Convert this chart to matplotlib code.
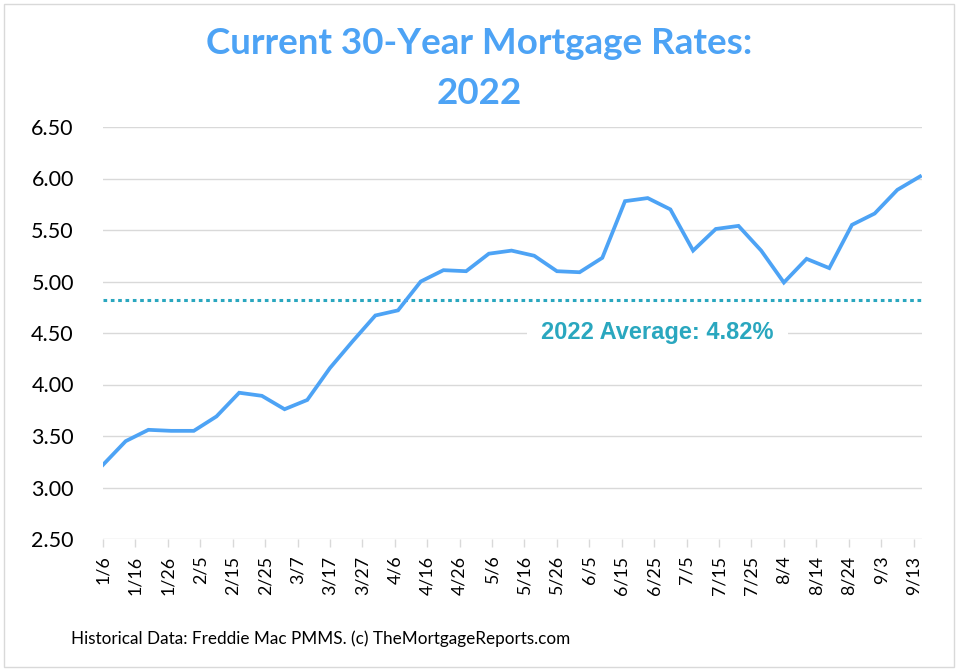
import matplotlib
matplotlib.use("Agg")
import matplotlib.pyplot as plt
import pandas as pd
from matplotlib.patches import Rectangle

dates = ["2022-01-06", "2022-01-13", "2022-01-20", "2022-01-27", "2022-02-03", "2022-02-10",
         "2022-02-17", "2022-02-24", "2022-03-03", "2022-03-10", "2022-03-17", "2022-03-24",
         "2022-03-31", "2022-04-07", "2022-04-14", "2022-04-21", "2022-04-28", "2022-05-05",
         "2022-05-12", "2022-05-19", "2022-05-26", "2022-06-02", "2022-06-09", "2022-06-16",
         "2022-06-23", "2022-06-30", "2022-07-07", "2022-07-14", "2022-07-21", "2022-07-28",
         "2022-08-04", "2022-08-11", "2022-08-18", "2022-08-25", "2022-09-01", "2022-09-08",
         "2022-09-15"]
rates = [3.22, 3.45, 3.56, 3.55, 3.55, 3.69, 3.92, 3.89, 3.76, 3.85, 4.16, 4.42,
         4.67, 4.72, 5.00, 5.11, 5.10, 5.27, 5.30, 5.25, 5.10, 5.09, 5.23, 5.78,
         5.81, 5.70, 5.30, 5.51, 5.54, 5.30, 4.99, 5.22, 5.13, 5.55, 5.66, 5.89, 6.02]
average = 4.82
y_ticks = [2.50, 3.00, 3.50, 4.00, 4.50, 5.00, 5.50, 6.00, 6.50]
tick_start, tick_end = "2022-01-06", "2022-09-13"

title_line1 = "Current 30-Year Mortgage Rates:"
title_line2 = "2022"
avg_label = "2022 Average: 4.82%"
footer = "Historical Data: Freddie Mac PMMS. (c) TheMortgageReports.com"

x = pd.to_datetime(dates)
tick_dates = pd.date_range(tick_start, tick_end, freq="10D")

fig = plt.figure(figsize=(9.58, 6.71), dpi=100)
fig.patch.set_facecolor("white")
ax = fig.add_axes([103/958, 1-539/671, (922-103)/958, (539-127)/671])

grid_c = "#d9d9d9"
for yv in y_ticks:
    ax.axhline(yv, color=grid_c, lw=1.0, zorder=1)

ax.axhline(average, color="#2aa7bf", lw=2.2, linestyle=(0, (1.2, 1.2)),
           dash_capstyle="butt", zorder=2)
ax.plot(x, rates, color="#4da3f5", lw=2.7, solid_joinstyle="miter", zorder=3)

ax.set_ylim(2.5, 6.5)
ax.set_xlim(x[0], x[-1] + pd.Timedelta(days=0.6))
ax.set_yticks(y_ticks)
ax.set_yticklabels([f"{v:.2f}" for v in y_ticks], fontsize=15.5, family="Lato")
ax.set_xticks(tick_dates)
ax.set_xticklabels([f"{d.month}/{d.day}" for d in tick_dates], rotation=90,
                   fontsize=12.8, family="Lato")
ax.tick_params(axis="y", length=0, pad=21)
ax.tick_params(axis="x", length=6, color=grid_c, width=1, pad=6)
for s in ax.spines.values():
    s.set_visible(False)

ax.text(pd.Timestamp("2022-06-26"), 4.50, avg_label, ha="center", va="center",
        fontsize=17, fontweight="bold", family="Liberation Sans", color="#2aa7bf",
        bbox=dict(facecolor="white", edgecolor="none", pad=10), zorder=4)

fig.text(479/958, 1-43/671, title_line1, ha="center", va="center",
         fontsize=26.5, fontweight="bold", family="Lato", color="#4da3f5")
fig.text(479/958, 1-93/671, title_line2, ha="center", va="center",
         fontsize=26.5, fontweight="bold", family="Lato", color="#4da3f5")
fig.text(71/958, 1-639/671, footer, ha="left", va="center", fontsize=12.3,
         family="Lato", color="black")

fig.patches.append(Rectangle((4/958, 4/671), 950/958, 663/671, transform=fig.transFigure,
                             fill=False, edgecolor=grid_c, lw=1))

fig.savefig("out.png", dpi=100)
